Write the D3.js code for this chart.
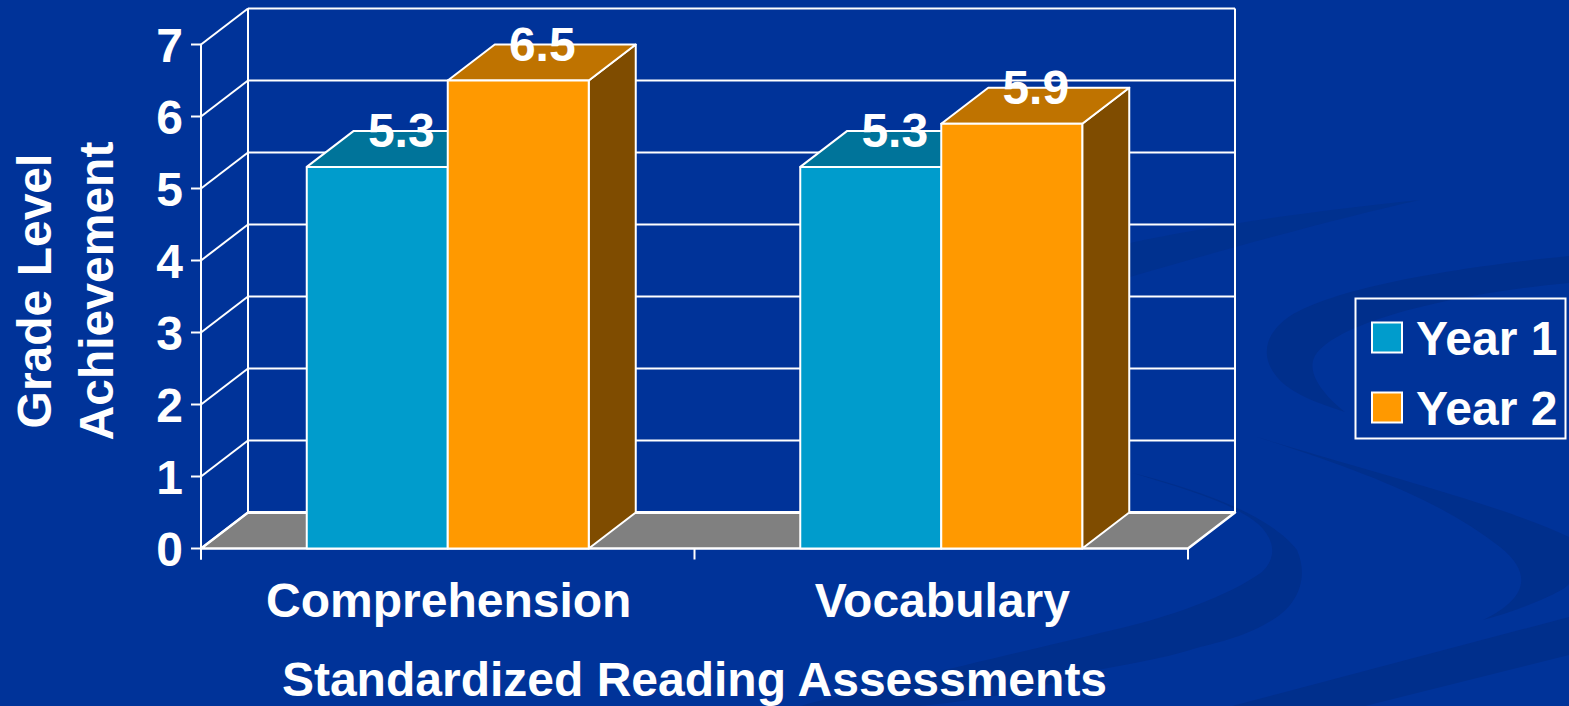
<!DOCTYPE html>
<html><head><meta charset="utf-8">
<script src="https://cdn.jsdelivr.net/npm/d3@7"></script>
<style>html,body{margin:0;padding:0;background:#003399;overflow:hidden}
text{font-family:"Liberation Sans",Arial,sans-serif;font-weight:bold;fill:#fff}</style>
</head><body><svg id="c" width="1569" height="706" style="display:block"></svg>
<script>
const categories = ["Comprehension", "Vocabulary"];
const seriesNames = ["Year 1", "Year 2"];
const year1 = [5.3, 5.3];
const year2 = [6.5, 5.9];
const yTicks = [0, 1, 2, 3, 4, 5, 6, 7];
const xTitle = "Standardized Reading Assessments";
const yTitleLines = ["Grade Level", "Achievement"];
const frontColors = ["#009ccc", "#ff9900"];
const topColors = ["#00749a", "#bf7300"];
const sideColors = ["#005c7a", "#7f4c00"];
const dataLabels = ["5.3", "6.5", "5.3", "5.9"];

const svg = d3.select("#c");
const W = 1569, H = 706, dx = 47, dy = -36;
const x0 = d3.scaleBand().domain(categories).range([201, 1188]).paddingInner(0).paddingOuter(0);
const x1 = d3.scaleBand().domain(seriesNames).range([0, x0.bandwidth()]).paddingInner(0).paddingOuter(0.75);
const y = d3.scaleLinear().domain([0, 7]).range([548.5, 44.5]);
const line = d3.line();

// background swooshes
svg.append("rect").attr("width", W).attr("height", H).attr("fill", "#003399");
const bg = svg.append("g").attr("fill", "#002f8c");
[
 "M1569,256 C1470,266 1340,285 1290,316 C1262,335 1258,362 1285,385 C1305,400 1325,405 1345,412 C1320,392 1308,372 1314,358 C1330,325 1440,295 1569,283 Z",
 "M1133,473 C1200,490 1270,515 1297,550 C1310,580 1295,605 1277,617 C1250,635 1220,642 1200,647 C1160,660 1120,665 1088,672 C1040,690 980,700 920,706 L800,706 C900,680 1030,650 1100,633 C1170,618 1230,595 1262,572 C1280,555 1275,530 1240,512 C1210,495 1170,485 1133,473 Z",
 "M1569,537 C1500,505 1400,480 1257,437 C1360,470 1440,500 1500,547 C1535,575 1525,600 1483,620 C1520,610 1569,590 1569,583 Z",
 "M1569,617 L1232,706 L1365,706 L1569,655 Z"
].forEach(d => bg.append("path").attr("d", d));
bg.append("path").attr("fill", "#00318f").attr("d", "M1130,243 C1200,228 1300,212 1420,200 C1340,218 1240,245 1130,277 Z");

function poly(g, pts, fill, sw) {
  return g.append("path").attr("d", line(pts) + "Z").attr("fill", fill)
    .attr("stroke", "#fff").attr("stroke-width", sw || 2).attr("stroke-linejoin", "round");
}
const g = svg.append("g");
const xL = x0.range()[0], xR = x0.range()[1];

// floor
poly(g, [[xL, y(0)], [xR, y(0)], [xR + dx, y(0) + dy], [xL + dx, y(0) + dy]], "#808080", 2.5);

// wall gridlines
yTicks.forEach(t => {
  g.append("line").attr("x1", xL).attr("y1", y(t)).attr("x2", xL + dx).attr("y2", y(t) + dy).attr("stroke", "#fff").attr("stroke-width", 2);
  g.append("line").attr("x1", xL + dx).attr("y1", y(t) + dy).attr("x2", xR + dx).attr("y2", y(t) + dy).attr("stroke", "#fff").attr("stroke-width", t === 0 ? 3 : 2);
  g.append("line").attr("x1", xL - 10).attr("y1", y(t)).attr("x2", xL).attr("y2", y(t)).attr("stroke", "#fff").attr("stroke-width", 2);
});
g.append("line").attr("x1", xL).attr("y1", y(0) + 11).attr("x2", xL).attr("y2", y(7)).attr("stroke", "#fff").attr("stroke-width", 2);
g.append("line").attr("x1", xL + dx).attr("y1", y(0) + dy).attr("x2", xL + dx).attr("y2", y(7) + dy).attr("stroke", "#fff").attr("stroke-width", 2);
g.append("line").attr("x1", xR + dx).attr("y1", y(0) + dy).attr("x2", xR + dx).attr("y2", y(7) + dy).attr("stroke", "#fff").attr("stroke-width", 2);
[xL, xL + x0.bandwidth(), xR].forEach(v => g.append("line").attr("x1", v).attr("y1", y(0)).attr("x2", v).attr("y2", y(0) + 11).attr("stroke", "#fff").attr("stroke-width", 2));

// bars
categories.forEach((c, i) => {
  [year1[i], year2[i]].forEach((v, s) => {
    const a = x0(c) + x1(seriesNames[s]), b = a + x1.bandwidth(), t = y(v), z = y(0);
    poly(g, [[b, t], [b + dx, t + dy], [b + dx, z + dy], [b, z]], sideColors[s]);
    poly(g, [[a, t], [b, t], [b + dx, t + dy], [a + dx, t + dy]], topColors[s]);
    poly(g, [[a, t], [b, t], [b, z], [a, z]], frontColors[s]);
  });
});

// data labels
const allVals = categories.flatMap((c, i) => [[c, 0, year1[i]], [c, 1, year2[i]]]);
allVals.forEach(([c, s, v], k) => {
  const a = x0(c) + x1(seriesNames[s]);
  svg.append("text").attr("x", a + x1.bandwidth() / 2 + 24).attr("y", y(v) - 20)
    .attr("text-anchor", "middle").attr("font-size", 48).text(dataLabels[k]);
});

// y tick labels
yTicks.forEach(t => svg.append("text").attr("x", 183).attr("y", y(t) + 17).attr("text-anchor", "end").attr("font-size", 48).text(t));
// category labels
categories.forEach(c => svg.append("text").attr("x", x0(c) + x0.bandwidth() / 2 + 1).attr("y", 617).attr("text-anchor", "middle").attr("font-size", 48).text(c));
// axis titles
svg.append("text").attr("x", 694.5).attr("y", 695.5).attr("text-anchor", "middle").attr("font-size", 48).text(xTitle);
yTitleLines.forEach((l, i) => svg.append("text").attr("transform", `translate(${51 + i * 62},291) rotate(-90)`).attr("text-anchor", "middle").attr("font-size", 48).text(l));

// legend
svg.append("rect").attr("x", 1355.5).attr("y", 298.5).attr("width", 210).attr("height", 140).attr("fill", "none").attr("stroke", "#fff").attr("stroke-width", 2);
seriesNames.forEach((n, i) => {
  const ly = 322.5 + i * 70;
  svg.append("rect").attr("x", 1372).attr("y", ly).attr("width", 30).attr("height", 30).attr("fill", frontColors[i]).attr("stroke", "#fff").attr("stroke-width", 2);
  svg.append("text").attr("x", 1416).attr("y", ly + 32).attr("font-size", 48).text(n);
});
</script></body></html>
